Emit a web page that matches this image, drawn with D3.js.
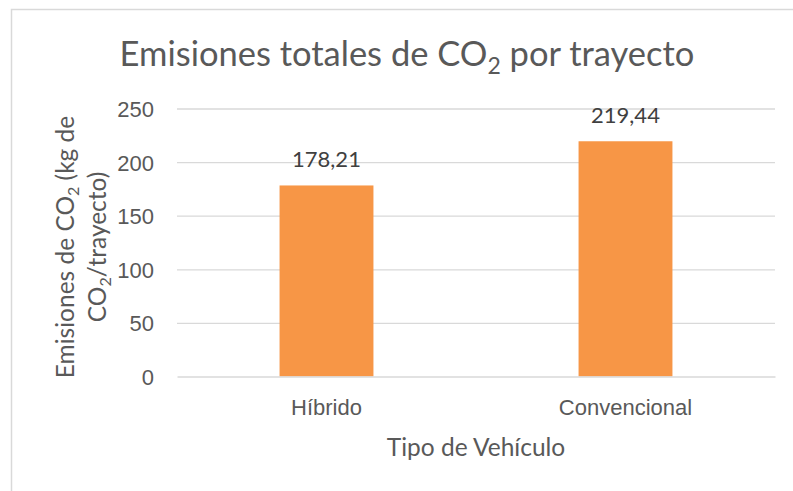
<!DOCTYPE html>
<html>
<head>
<meta charset="utf-8">
<script src="https://cdn.jsdelivr.net/npm/d3@7"></script>
<style>
  html, body { margin: 0; padding: 0; background: #fff; }
  svg { display: block; font-family: Lato, 'Noto Sans', sans-serif; }
  .grid line { stroke: #d9d9d9; stroke-width: 1.3; }
  .grid .domain { display: none; }
  .y.axis text, .x.axis text { fill: #595959; }
  .y.axis .domain, .y.axis line, .x.axis line { display: none; }
  .x.axis .domain { stroke: #d9d9d9; stroke-width: 1.5; }
</style>
</head>
<body>
<svg id="chart"></svg>
<script>
const categories = ['Híbrido', 'Convencional']
const emissions = [178.21, 219.44]
const yTicks = [0, 50, 100, 150, 200, 250]
const labelText = ['178,21', '219,44']

const width = 793
const height = 491
const plot = { left: 177, right: 775, top: 108.5, bottom: 376.5 }
const textColor = '#595959'

const svg = d3.select('#chart')
  .attr('width', width)
  .attr('height', height)

// chart-area border (runs off the right and bottom of the crop)
svg.append('rect')
  .attr('x', 11.5)
  .attr('y', 9.5)
  .attr('width', width + 20)
  .attr('height', height + 20)
  .style('fill', 'none')
  .style('stroke', '#d9d9d9')
  .style('stroke-width', 1.5)

const x = d3.scaleBand()
  .domain(categories)
  .range([plot.left, plot.right])
  .paddingInner(0.686)
  .paddingOuter(0.343)

const y = d3.scaleLinear()
  .domain([0, 250])
  .range([plot.bottom, plot.top])

svg.append('g')
  .attr('class', 'grid')
  .attr('transform', `translate(${plot.left}, 0)`)
  .call(d3.axisLeft(y)
    .tickValues(yTicks.filter(d => d > 0))
    .tickSize(-(plot.right - plot.left))
    .tickFormat(''))

svg.append('g')
  .attr('class', 'y axis')
  .attr('transform', `translate(${plot.left - 23}, 0)`)
  .call(d3.axisLeft(y).tickValues(yTicks).tickSize(0).tickPadding(0))
  .selectAll('text')
  .style('font-size', '22px')
  .attr('dy', '0.36em')

svg.selectAll('.bar')
  .data(emissions)
  .join('rect')
  .attr('class', 'bar')
  .attr('x', (d, i) => x(categories[i]))
  .attr('y', d => y(d))
  .attr('width', x.bandwidth())
  .attr('height', d => y(0) - y(d))
  .style('fill', '#f79646')

svg.append('g')
  .attr('class', 'x axis')
  .attr('transform', `translate(0, ${plot.bottom})`)
  .call(d3.axisBottom(x).tickSize(0).tickPadding(0).tickSizeOuter(0))
  .selectAll('text')
  .attr('y', 38)
  .attr('dy', 0)
  .style('font-size', '22px')

svg.selectAll('.value')
  .data(emissions)
  .join('text')
  .attr('class', 'value')
  .attr('x', (d, i) => x(categories[i]) + x.bandwidth() / 2)
  .attr('y', d => y(d) - 18)
  .attr('text-anchor', 'middle')
  .style('font-size', '22px')
  .style('fill', '#404040')
  .text((d, i) => labelText[i])

// title with subscript
const title = svg.append('text')
  .attr('x', (plot.left + plot.right) / 2 - 69)
  .attr('y', 66)
  .attr('text-anchor', 'middle')
  .style('font-size', '34.5px')
  .style('fill', textColor)
title.append('tspan').text('Emisiones totales de CO')
title.append('tspan').attr('dy', 8).style('font-size', '23px').text('2')
title.append('tspan').attr('dy', -8).text(' por trayecto')

svg.append('text')
  .attr('x', (plot.left + plot.right) / 2)
  .attr('y', 456)
  .attr('text-anchor', 'middle')
  .style('font-size', '24.5px')
  .style('fill', textColor)
  .text('Tipo de Vehículo')

// rotated y-axis title, two lines
const yTitle = svg.append('g')
  .attr('transform', `translate(0, 247) rotate(-90)`)
  .style('font-size', '24.5px')
  .style('fill', textColor)

const line1 = yTitle.append('text').attr('x', 0).attr('y', 74).attr('text-anchor', 'middle')
line1.append('tspan').text('Emisiones de CO')
line1.append('tspan').attr('dy', 5).style('font-size', '16px').text('2')
line1.append('tspan').attr('dy', -5).text(' (kg de')

const line2 = yTitle.append('text').attr('x', 0).attr('y', 106).attr('text-anchor', 'middle')
line2.append('tspan').text('CO')
line2.append('tspan').attr('dy', 5).style('font-size', '16px').text('2')
line2.append('tspan').attr('dy', -5).text('/trayecto)')
</script>
</body>
</html>
